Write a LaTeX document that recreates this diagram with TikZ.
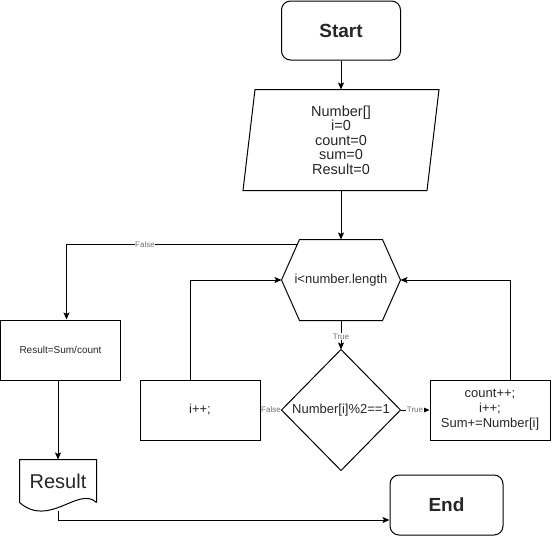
\documentclass[tikz,border=0pt]{standalone}
\usepackage{fontspec}
\setmainfont{Liberation Sans}
\usetikzlibrary{arrows.meta,calc}
\begin{document}
\begin{tikzpicture}[x=1pt,y=-1pt,
  line width=1pt,
  >={Stealth[length=7pt,width=6pt,inset=1.5pt]},
  every node/.style={inner sep=0pt, text=black!85, align=center},
  term/.style={draw, rounded corners=9pt, minimum width=119pt, minimum height=59pt,
    font=\fontsize{19}{22}\selectfont\bfseries},
  proc/.style={draw, minimum width=120pt, minimum height=60pt,
    font=\fontsize{13}{15}\selectfont},
  area/.style 2 args={minimum width=#1, minimum height=#2},
  lbl/.style={fill=white, text=black!55, font=\fontsize{8}{9}\selectfont, inner sep=0.6pt},
]
\useasboundingbox (0,0) rectangle (551,536);

% terminals
\node[term] (start) at (341,30.5) {Start};
\node[term, minimum width=113pt, minimum height=60pt] (end) at (446.5,505) {End};

% initialisation (parallelogram drawn around the text node)
\node[area={183pt}{100pt}, font=\fontsize{14.5}{14.5}\selectfont] (init) at (341,140)
  {Number[]\\i=0\\count=0\\sum=0\\Result=0};
\draw ($(init.north west)+(6,0)$) -- ($(init.north east)+(6,0)$)
   -- ($(init.south east)+(-6,0)$) -- ($(init.south west)+(-6,0)$) -- cycle;

% loop condition (hexagon)
\node[area={118pt}{80pt}, font=\fontsize{13}{15}\selectfont] (hex) at (341,280) {i<number.length};
\draw (hex.west) -- ($(hex.north west)+(18,0)$) -- ($(hex.north east)+(-18,0)$)
   -- (hex.east) -- ($(hex.south east)+(-18,0)$) -- ($(hex.south west)+(18,0)$) -- cycle;

% odd test (diamond)
\node[area={118pt}{120pt}, font=\fontsize{13}{15}\selectfont] (dia) at (341,410) {Number[i]\%2==1};
\draw (dia.north) -- (dia.east) -- (dia.south) -- (dia.west) -- cycle;

% process boxes
\node[proc] (incr) at (200,410) {i++;};
\node[proc] (cnt) at (490,410) {count++;\\i++;\\Sum+=Number[i]};
\node[proc, font=\fontsize{10}{12}\selectfont] (rsc) at (60.5,350) {Result=Sum/count};

% output document
\node[area={76pt}{42pt}, font=\fontsize{20}{22}\selectfont] (doc) at (58,481) {Result};
\draw (doc.south east) -- (doc.north east) -- (doc.north west) -- (doc.south west)
   .. controls +(30,26) and +(-18,-17) .. (doc.south east);

% connectors
\coordinate (hexF) at ($(hex.west)!0.875!($(hex.north west)+(18,0)$)$);
\coordinate (docB) at ($(doc.south)+(0,8)$);

\draw[->] (start) -- (init.north);
\draw[->] (init.south) -- (hex.north);
\draw[->] (hex.south) -- node[lbl, pos=0.55] {True} (dia.north);
\draw[->] (dia.west) -- node[lbl] {False} (incr.east);
\draw[->] (dia.east) -- node[lbl] {True} (cnt.west);
\draw[->] ([xshift=-10pt]incr.north) |- (hex.west);
\draw[->] ([xshift=20pt]cnt.north) |- (hex.east);
\draw[->] (hexF) -| node[lbl, pos=0.33] {False} ([xshift=6pt]rsc.north);
\draw[->] (rsc.south -| doc.north) -- (doc.north);
\draw[->] (docB) |- ($(end.west)+(0,15)$);
\end{tikzpicture}
\end{document}
